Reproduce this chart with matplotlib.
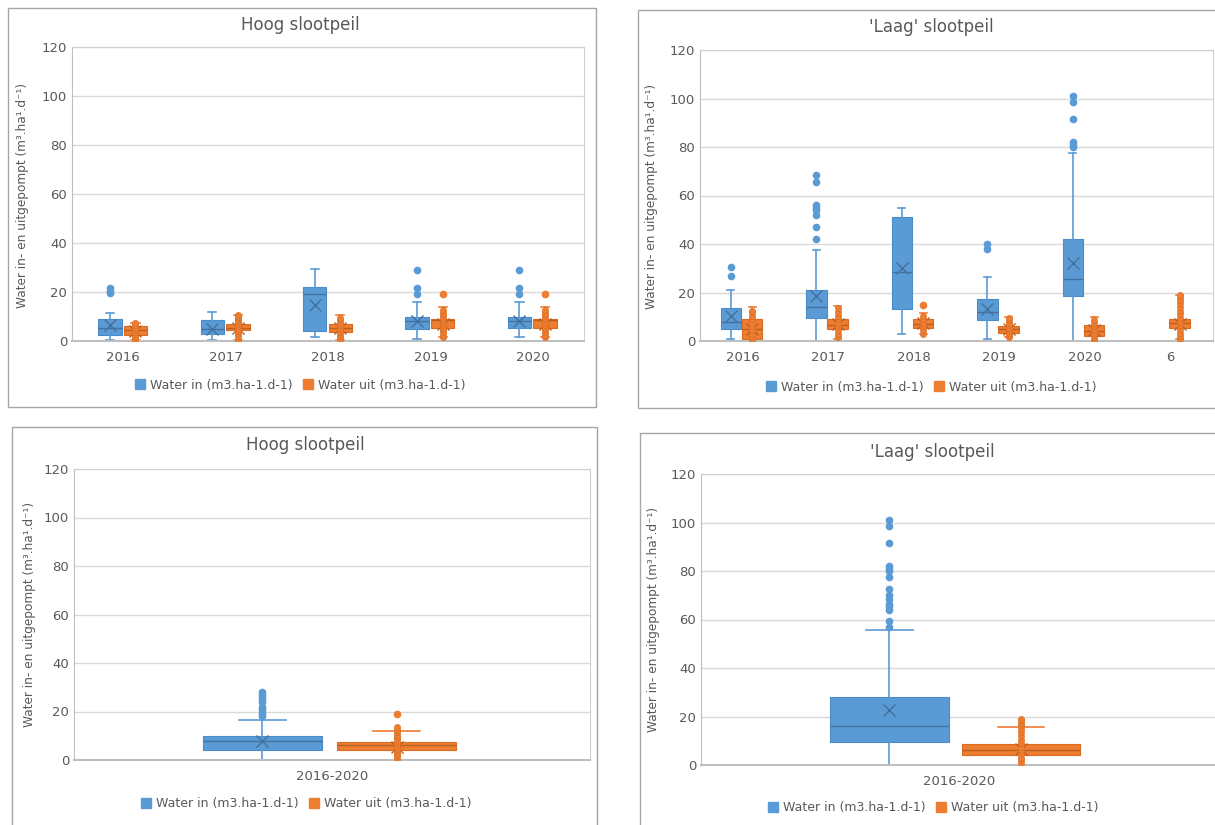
import numpy as np
import matplotlib.pyplot as plt
from matplotlib.patches import Rectangle, Patch

#---------------------------------------------------
#----------Data-------------------------------------
# stats per box: whislo, q1, median, q3, whishi, mean
years = ['2016', '2017', '2018', '2019', '2020']
years_laag = ['2016', '2017', '2018', '2019', '2020', '6']
period = ['2016-2020']

hoog_in_stats = [[0.5, 2.5, 5.5, 9.0, 11.5, 6.5],
                 [0.3, 3.0, 5.0, 8.5, 12.0, 5.0],
                 [1.8, 4.0, 19.0, 22.0, 29.5, 14.5],
                 [1.0, 5.0, 8.0, 10.0, 16.0, 8.0],
                 [1.5, 5.5, 8.0, 10.0, 16.0, 8.0]]
hoog_in_fliers = [[19.5, 20.5, 21.5], [], [], [19, 21.5, 29], [19, 21.5, 29]]
hoog_uit_stats = [[0.5, 2.5, 4.5, 6.0, 7.5, 4.0],
                  [0.5, 4.5, 5.5, 6.8, 10.5, 5.5],
                  [0.5, 3.5, 5.5, 7.0, 10.5, 5.5],
                  [1.5, 5.5, 8.5, 9.0, 14.0, 7.0],
                  [1.5, 5.5, 8.5, 9.0, 14.0, 7.0]]
hoog_uit_fliers = [[], [], [], [19], [19]]
hoog_uit_points = [[0.5, 1.5, 2.5, 3.5, 4.5, 5.5, 6.5, 7.5],
                   [0.5, 2, 3, 4, 5, 6, 7, 8, 9, 10, 10.5],
                   [0.5, 1.5, 2.5, 3.5, 4.5, 5.5, 6.5, 7.5, 8.5, 9.5],
                   [1.5, 2.5, 3.5, 4.5, 5.5, 6.5, 7.5, 8.5, 9.5, 10.5, 11.5, 12.5],
                   [1.5, 2.5, 3.5, 4.5, 5.5, 6.5, 7.5, 8.5, 9.5, 10.5, 11.5, 12.5]]

laag_in_stats = [[1.0, 5.0, 8.0, 13.5, 21.0, 10.5],
                 [0.0, 9.5, 14.0, 21.0, 37.5, 18.5],
                 [3.0, 13.0, 28.5, 51.0, 55.0, 30.0],
                 [1.0, 8.5, 12.0, 17.5, 26.5, 13.0],
                 [0.0, 18.5, 25.5, 42.0, 77.5, 32.0],
                 None]
laag_in_fliers = [[27, 30.5], [42, 47, 52, 54, 55, 56, 65.5, 68.5], [], [38, 40],
                  [80, 81, 82, 91.5, 98.5, 101], []]
laag_uit_stats = [[0.0, 1.0, 5.0, 9.0, 14.0, 5.0],
                  [1.0, 5.0, 6.5, 9.0, 14.5, 7.0],
                  [3.0, 5.5, 7.0, 9.0, 11.5, 7.5],
                  [1.5, 3.5, 5.0, 6.0, 10.0, 5.0],
                  [0.0, 2.0, 4.0, 6.5, 10.0, 4.5],
                  [1.0, 5.5, 7.5, 9.0, 19.0, 7.0]]
laag_uit_fliers = [[], [], [15], [], [], []]
laag_uit_points = [[0.5, 1.5, 3, 4.5, 6, 7.5, 9, 10.5, 12, 12.5],
                   [1.5, 3, 4.5, 6, 7.5, 9, 10.5, 12, 13.5],
                   [3, 4.5, 6, 7.5, 9, 10.5],
                   [1.5, 2.5, 3.5, 4.5, 5.5, 6.5, 7.5, 8.5, 9.5],
                   [0.5, 1.5, 3, 4.5, 6, 7.5, 8.5],
                   [1, 2, 3.5, 5, 6.5, 8, 9.5, 11, 12.5, 14, 15.5, 17, 18, 19]]

hoog_tot_in_stats = [[0.0, 4.0, 8.0, 10.0, 16.5, 8.0]]
hoog_tot_in_fliers = [[18, 19, 20, 21, 22, 24, 25, 26, 27, 28]]
hoog_tot_uit_stats = [[0.0, 4.0, 6.0, 7.5, 12.0, 5.5]]
hoog_tot_uit_fliers = [[19]]
hoog_tot_uit_points = [[0.5, 1.5, 2.5, 3.5, 4.5, 5.5, 6.5, 7.5, 8.5, 9.5, 10.5, 11.5, 12.5, 13.5]]

laag_tot_in_stats = [[0.0, 9.5, 16.0, 28.0, 55.5, 22.5]]
laag_tot_in_fliers = [[57, 59.5, 64, 65.5, 66.5, 68.5, 70, 72.5, 77.5, 80, 81, 82, 91.5, 98.5, 101]]
laag_tot_uit_stats = [[0.0, 4.0, 6.0, 8.5, 15.5, 6.5]]
laag_tot_uit_fliers = [[]]
laag_tot_uit_points = [[1, 2, 3, 4.5, 6, 7.5, 9, 10.5, 12, 13.5, 15, 16.5, 17.5, 18.5, 19]]

label_in = 'Water in (m3.ha-1.d-1)'
label_uit = 'Water uit (m3.ha-1.d-1)'
ylabel = 'Water in- en uitgepompt (m³.ha¹.d⁻¹)'
#---------------------------------------------------

BLUE, BLUE_E, BLUE_D = '#5B9BD5', '#4A8BC9', '#41719C'
ORANGE, ORANGE_E, ORANGE_D = '#ED7D31', '#DA6C22', '#B85F22'
GREY_T = '#595959'

W, H = 1215, 825
fig = plt.figure(figsize=(12.15, 8.25), dpi=100)


def px_axes(l, t, r, b):
    return fig.add_axes([l / W, 1 - b / H, (r - l) / W, (b - t) / H])


def frame(l, t, r, b):
    fig.patches.append(Rectangle((l / W, 1 - b / H), (r - l) / W, (b - t) / H,
                                 transform=fig.transFigure, fill=False,
                                 edgecolor='#A6A6A6', lw=1))


def draw_series(ax, centers, offset, width, capw, stats, fliers, points, color, edge, dark):
    bx, pos = [], []
    for i, s in enumerate(stats):
        if s is None:
            continue
        bx.append(dict(whislo=s[0], q1=s[1], med=s[2], q3=s[3], whishi=s[4],
                       mean=s[5], fliers=fliers[i]))
        pos.append(centers[i] + offset)
    ax.bxp(bx, positions=pos, widths=width, capwidths=capw, patch_artist=True,
           showmeans=True, showfliers=True,
           boxprops=dict(facecolor=color, edgecolor=edge, lw=0.8),
           medianprops=dict(color=dark, lw=1),
           whiskerprops=dict(color=color, lw=1.2),
           capprops=dict(color=color, lw=1.2),
           meanprops=dict(marker='x', markeredgecolor=dark, markersize=8, mew=1),
           flierprops=dict(marker='o', markerfacecolor=color, markeredgecolor=color,
                           markersize=4.5))
    if points is not None:
        for i, pts in enumerate(points):
            ax.plot(np.full(len(pts), centers[i] + offset), pts, 'o', color=color,
                    mec=edge, mew=0.4, markersize=4.5, zorder=4)


def style(ax, cats):
    ax.set_ylim(0, 120)
    ax.set_xlim(0.5, len(cats) + 0.5)
    ax.set_yticks(range(0, 121, 20))
    ax.set_xticks(range(1, len(cats) + 1))
    ax.set_xticklabels(cats)
    ax.tick_params(length=0, labelsize=9.5, colors=GREY_T)
    ax.tick_params(axis='x', pad=7)
    ax.yaxis.grid(True, color='#D9D9D9', lw=1)
    ax.set_axisbelow(True)
    for sp in ax.spines.values():
        sp.set_color('#D0D0D0')
    ax.spines['left'].set_color('#BFBFBF')
    ax.spines['bottom'].set_color('#BFBFBF')
    ax.spines['bottom'].set_linewidth(1.5)


def panel(box, cats, title, tpos, ylpos, legpos, series, off, width, capw):
    ax = px_axes(*box)
    centers = np.arange(1, len(cats) + 1)
    for (stats, fliers, points, color, edge, dark), o in zip(series, off):
        draw_series(ax, centers, o, width, capw, stats, fliers, points, color, edge, dark)
    style(ax, cats)
    fig.text(tpos[0] / W, 1 - tpos[1] / H, title, ha='center', va='center',
             fontsize=12, color=GREY_T)
    fig.text(ylpos[0] / W, 1 - ylpos[1] / H, ylabel, rotation=90, ha='center',
             va='center', fontsize=8.7, color=GREY_T)
    handles = [Patch(facecolor=BLUE, edgecolor=BLUE), Patch(facecolor=ORANGE, edgecolor=ORANGE)]
    leg = fig.legend(handles, [label_in, label_uit], loc='center',
                     bbox_to_anchor=(legpos[0] / W, 1 - legpos[1] / H), ncol=2,
                     frameon=False, fontsize=9, handlelength=0.8, handleheight=0.8,
                     handletextpad=0.4, columnspacing=0.8)
    for t in leg.get_texts():
        t.set_color(GREY_T)
    return ax


#----------Panel frames-----------------------------
frame(8, 8, 596, 407)
frame(638, 10, 1225, 408)
frame(12, 427, 597, 835)
frame(640, 433, 1225, 835)

#----------Hoog per year----------------------------
panel((72, 47, 584, 341), years, 'Hoog slootpeil', (300, 25), (23, 195), (300, 385),
      [(hoog_in_stats, hoog_in_fliers, None, BLUE, BLUE_E, BLUE_D),
       (hoog_uit_stats, hoog_uit_fliers, hoog_uit_points, ORANGE, ORANGE_E, ORANGE_D)],
      (-0.13, 0.12), 0.23, 0.08)

#----------Laag per year----------------------------
panel((700, 50, 1213, 341), years_laag, "'Laag' slootpeil", (931, 27), (652, 196), (931, 387),
      [(laag_in_stats, laag_in_fliers, None, BLUE, BLUE_E, BLUE_D),
       (laag_uit_stats, laag_uit_fliers, laag_uit_points, ORANGE, ORANGE_E, ORANGE_D)],
      (-0.14, 0.11), 0.24, 0.08)

#----------Hoog 2016-2020---------------------------
panel((74, 469, 590, 760), period, 'Hoog slootpeil', (305, 445), (29, 614), (306, 804),
      [(hoog_tot_in_stats, hoog_tot_in_fliers, None, BLUE, BLUE_E, BLUE_D),
       (hoog_tot_uit_stats, hoog_tot_uit_fliers, hoog_tot_uit_points, ORANGE, ORANGE_E, ORANGE_D)],
      (-0.135, 0.125), 0.23, 0.09)

#----------Laag 2016-2020---------------------------
panel((701, 474, 1217, 765), period, "'Laag' slootpeil", (932, 452), (654, 619), (933, 808),
      [(laag_tot_in_stats, laag_tot_in_fliers, None, BLUE, BLUE_E, BLUE_D),
       (laag_tot_uit_stats, laag_tot_uit_fliers, laag_tot_uit_points, ORANGE, ORANGE_E, ORANGE_D)],
      (-0.135, 0.12), 0.23, 0.09)

fig.savefig('out.png', dpi=100)
